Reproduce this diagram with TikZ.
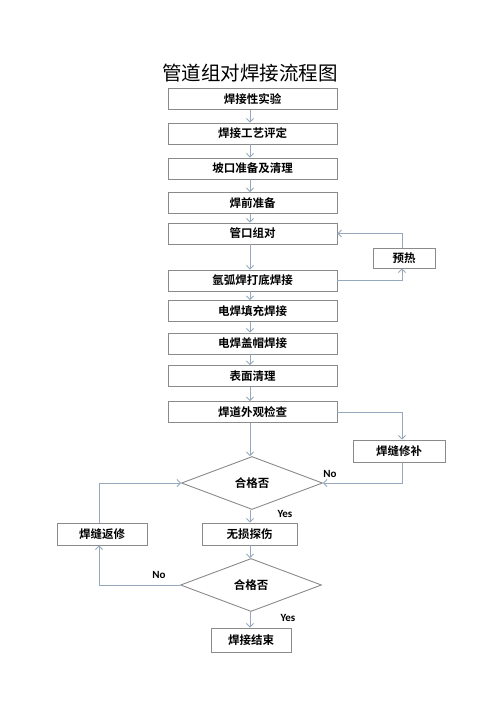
\documentclass[tikz,border=0pt]{standalone}
\usepackage{fontspec}
\newfontfamily\cjk{Noto Sans CJK SC}[BoldFont={Noto Sans CJK SC Bold}]
\newfontfamily\latinb{Carlito}
\usetikzlibrary{arrows.meta,shapes.geometric}
\definecolor{boxline}{HTML}{8A8A8A}
\definecolor{arrowc}{HTML}{95A8BC}
\begin{document}
\begin{tikzpicture}[x=1pt,y=-1pt,
  box/.style={draw=boxline,line width=0.9pt,rectangle,inner sep=0pt,font=\cjk\bfseries\fontsize{11.5}{12}\selectfont},
  mainbox/.style={box,minimum width=169pt,minimum height=21pt},
  decision/.style={draw=boxline,line width=0.9pt,diamond,aspect=2.65,inner sep=0pt,minimum width=141pt,minimum height=53pt,font=\cjk\bfseries\fontsize{11.5}{12}\selectfont},
  conn/.style={draw=arrowc,line width=0.9pt,-{Straight Barb[length=3.5pt,width=7pt]}},
  lbl/.style={font=\latinb\bfseries\fontsize{11}{12}\selectfont,inner sep=0pt}]
\useasboundingbox (0,0) rectangle (500,707);
\node[font=\cjk\fontsize{19.5}{22}\selectfont,inner sep=0pt] (title) at (250,73) {管道组对焊接流程图};
\node[mainbox] (b1) at (252.5,99) {焊接性实验};
\node[mainbox] (b2) at (252.5,133.5) {焊接工艺评定};
\node[mainbox] (b3) at (252.5,168.5) {坡口准备及清理};
\node[mainbox] (b4) at (252.5,203) {焊前准备};
\node[mainbox] (b5) at (252.5,233.5) {管口组对};
\node[box,minimum width=62pt,minimum height=20pt] (pre) at (404,258) {预热};
\node[mainbox] (b6) at (252.5,280.5) {氩弧焊打底焊接};
\node[mainbox] (b7) at (252.5,311) {电焊填充焊接};
\node[mainbox] (b8) at (252.5,343.5) {电焊盖帽焊接};
\node[mainbox] (b9) at (252.5,376) {表面清理};
\node[mainbox] (b10) at (252.5,412) {焊道外观检查};
\node[box,minimum width=92pt,minimum height=22pt] (rep) at (399,451) {焊缝修补};
\node[decision] (d1) at (252,483) {合格否};
\node[box,minimum width=95pt,minimum height=22pt] (ndt) at (249.5,534) {无损探伤};
\node[box,minimum width=90pt,minimum height=22pt] (rew) at (102,534) {焊缝返修};
\node[decision] (d2) at (251,585) {合格否};
\node[box,minimum width=80pt,minimum height=24pt] (end) at (251,640) {焊接结束};
\node[lbl] (no1) at (330,474) {No};
\node[lbl] (yes1) at (285,514) {Yes};
\node[lbl] (no2) at (159,575) {No};
\node[lbl] (yes2) at (288,618) {Yes};
\coordinate (x0) at (250,0);
\foreach \a/\b in {b1/b2,b2/b3,b3/b4,b4/b5,b5/b6,b6/b7,b7/b8,b8/b9,b9/b10,b10/d1,d1/ndt,ndt/d2,d2/end}
  \draw[conn] (x0 |- \a.south) -- (x0 |- \b.north);
\coordinate (rx) at (402,0);
\draw[conn] (b6.east) -- (rx |- b6.east) -- (rx |- pre.south);
\draw[conn] (rx |- pre.north) -- (rx |- b5.east) -- (b5.east);
\draw[conn] (b10.east) -- (rx |- b10.east) -- (rx |- rep.north);
\draw[conn] (rx |- rep.south) -- (rx |- d1.east) -- (d1.east);
\coordinate (lx) at (99,0);
\draw[conn] (d2.west) -- (lx |- d2.west) -- (lx |- rew.south);
\draw[conn] (lx |- rew.north) -- (lx |- d1.west) -- (d1.west);
\end{tikzpicture}
\end{document}
